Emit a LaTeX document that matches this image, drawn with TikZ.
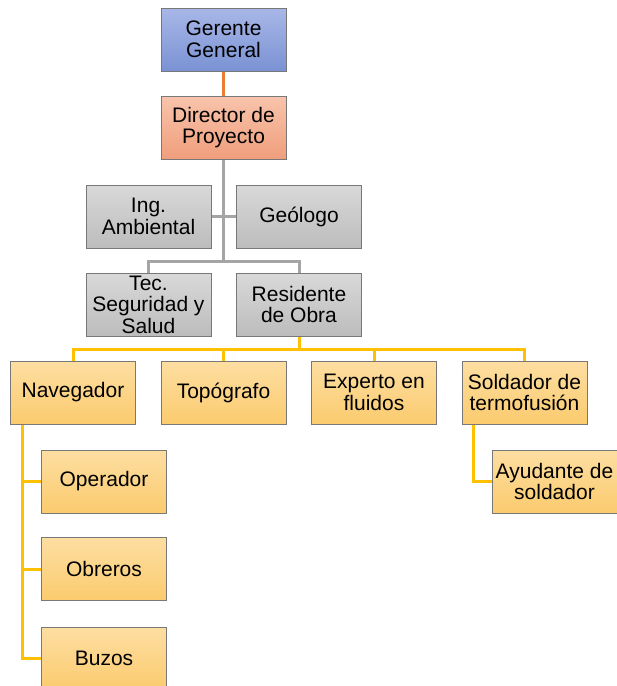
\documentclass[tikz,border=0pt]{standalone}
\usepackage{fontspec}
\setmainfont{Liberation Sans}
\usetikzlibrary{backgrounds}
\begin{document}
\begin{tikzpicture}[x=1pt,y=-1pt,
  box/.style={draw={rgb,255:red,120;green,120;blue,120}, line width=1pt, minimum width=125pt, minimum height=63pt,
    inner sep=0pt, align=center, font=\fontsize{21}{21.5}\selectfont},
  bluebox/.style={box, top color={rgb,255:red,168;green,183;blue,231}, bottom color={rgb,255:red,122;green,146;blue,212}},
  salmonbox/.style={box, top color={rgb,255:red,248;green,196;blue,172}, bottom color={rgb,255:red,240;green,158;blue,124}},
  graybox/.style={box, top color={rgb,255:red,217;green,217;blue,217}, bottom color={rgb,255:red,188;green,188;blue,188}},
  yellowbox/.style={box, top color={rgb,255:red,253;green,222;blue,162}, bottom color={rgb,255:red,251;green,203;blue,110}},
  orangeline/.style={draw={rgb,255:red,237;green,125;blue,49}, line width=3pt},
  grayline/.style={draw={rgb,255:red,165;green,165;blue,165}, line width=3pt},
  yellowline/.style={draw={rgb,255:red,255;green,192;blue,0}, line width=3pt}]
\useasboundingbox (0,0) rectangle (617,686);

% boxes
\node[bluebox]   (gg)  at (223.5,39.5)  {Gerente\\General};
\node[salmonbox] (dp)  at (223.5,127.5) {Director de\\Proyecto};
\node[graybox]   (ia)  at (148.5,216.5) {Ing.\\Ambiental};
\node[graybox]   (geo) at (299,216.5)   {Geólogo};
\node[graybox]   (tec) at (148.5,304.5) {Tec.\\Seguridad y\\Salud};
\node[graybox]   (res) at (299,304.5)   {Residente\\de Obra};
\node[yellowbox] (nav) at (73,392.5)    {Navegador};
\node[yellowbox] (top) at (223.5,392.5) {Topógrafo};
\node[yellowbox] (exp) at (374,392.5)   {Experto en\\fluidos};
\node[yellowbox] (sol) at (524.5,392.5) {Soldador de\\termofusión};
\node[yellowbox] (ayu) at (554.5,481.5) {Ayudante de\\soldador};
\node[yellowbox] (ope) at (104,481.5)   {Operador};
\node[yellowbox] (obr) at (104,569)     {Obreros};
\node[yellowbox] (buz) at (104,658.5)   {Buzos};

% connector junctions
\coordinate (gbus) at (223.5,261);
\coordinate (ybus) at (299,349);
\coordinate (nt) at ([xshift=12pt]nav.south west);
\coordinate (st) at ([xshift=12pt]sol.south west);

\begin{pgfonlayer}{background}
\path[orangeline] (gg.south) -- (dp.north);
\path[grayline] (dp.south) -- (gbus);
\path[grayline] (tec.north) |- (gbus) -| (res.north);
\path[grayline] (ia.east) -- (geo.west);
\path[yellowline] (res.south) -- (ybus);
\path[yellowline] (nav.north) |- (ybus) -| (sol.north);
\path[yellowline] (top.north) -- (top.north |- ybus);
\path[yellowline] (exp.north) -- (exp.north |- ybus);
\path[yellowline] (nt) |- (buz.west);
\path[yellowline] (nt |- ope.west) -- (ope.west);
\path[yellowline] (nt |- obr.west) -- (obr.west);
\path[yellowline] (st) |- (ayu.west);
\end{pgfonlayer}
\end{tikzpicture}
\end{document}
